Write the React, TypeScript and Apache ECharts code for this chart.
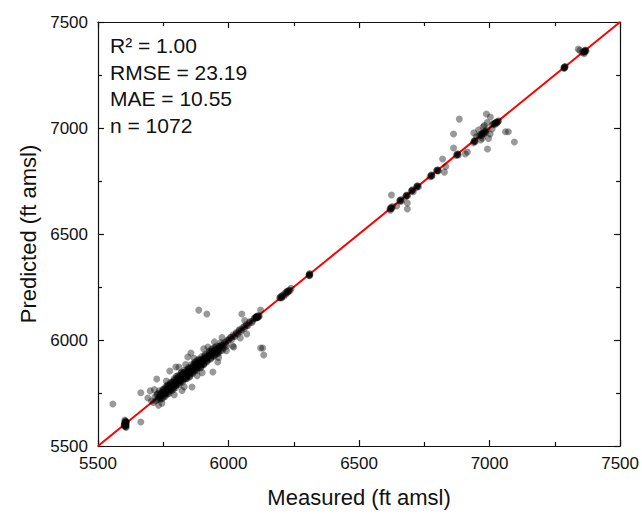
import React, { useEffect, useRef } from "react";
import * as echarts from "echarts";

const axisMin = 5500;
const axisMax = 7500;
const axisStep = 500;
const statLines = ["R\u00b2 = 1.00", "RMSE = 23.19", "MAE = 10.55", "n = 1072"];
const xAxisTitle = "Measured (ft amsl)";
const yAxisTitle = "Predicted (ft amsl)";
const oneToOne = [[5500, 5500], [7500, 7500]];

// [measured, predicted]
const lowCluster = [
  [5600, 5598], [5602, 5604], [5603, 5610], [5604, 5600], [5605, 5606], [5606, 5612],
  [5606, 5596], [5607, 5603], [5608, 5608], [5609, 5614], [5601, 5593], [5604, 5618],
  [5607, 5590], [5605, 5601], [5603, 5622], [5608, 5588], [5602, 5608], [5606, 5616],
  [5604, 5596], [5606, 5604], [5605, 5611], [5603, 5602], [5607, 5598], [5605, 5594],
];

const mainCluster = [
  [5691, 5726], [5705, 5712], [5712, 5705], [5718, 5731], [5722, 5713], [5725, 5742],
  [5728, 5719], [5731, 5727], [5733, 5749], [5736, 5732], [5738, 5721], [5740, 5746],
  [5742, 5735], [5745, 5754], [5747, 5741], [5749, 5727], [5751, 5762], [5753, 5746],
  [5755, 5737], [5757, 5769], [5759, 5756], [5761, 5749], [5763, 5774], [5765, 5759],
  [5767, 5745], [5769, 5782], [5771, 5767], [5773, 5757], [5775, 5791], [5777, 5775],
  [5779, 5764], [5781, 5797], [5783, 5783], [5785, 5771], [5787, 5801], [5789, 5787],
  [5791, 5779], [5793, 5809], [5795, 5794], [5797, 5785], [5799, 5816], [5801, 5803],
  [5803, 5789], [5805, 5821], [5807, 5807], [5809, 5796], [5811, 5827], [5813, 5815],
  [5815, 5802], [5817, 5833], [5819, 5821], [5821, 5808], [5823, 5839], [5825, 5825],
  [5827, 5814], [5829, 5845], [5831, 5833], [5833, 5819], [5835, 5851], [5837, 5839],
  [5839, 5825], [5841, 5857], [5843, 5843], [5845, 5831], [5847, 5862], [5849, 5851],
  [5851, 5837], [5853, 5867], [5855, 5855], [5857, 5843], [5859, 5873], [5861, 5863],
  [5863, 5849], [5865, 5879], [5867, 5867], [5869, 5855], [5871, 5885], [5873, 5875],
  [5875, 5861], [5877, 5890], [5879, 5879], [5881, 5867], [5883, 5896], [5885, 5887],
  [5887, 5873], [5889, 5901], [5891, 5891], [5893, 5879], [5895, 5907], [5897, 5899],
  [5899, 5885], [5901, 5913], [5904, 5904], [5907, 5893], [5910, 5921], [5913, 5913],
  [5916, 5901], [5919, 5929], [5922, 5921], [5925, 5909], [5928, 5937], [5931, 5927],
  [5934, 5917], [5937, 5945], [5940, 5937], [5943, 5925], [5946, 5953], [5949, 5943],
  [5952, 5933], [5955, 5961], [5958, 5951], [5961, 5943], [5964, 5969], [5967, 5961],
  [5970, 5951], [5973, 5977], [5976, 5967], [5980, 5961], [5984, 5987], [5988, 5979],
  [5992, 5971], [5996, 5999], [6002, 6004], [6008, 6013], [6012, 6002], [6018, 6025],
  [6024, 6017], [6030, 6035], [6036, 6029], [6042, 6049], [6048, 6040], [6055, 6059],
  [6062, 6055], [6068, 6073], [6075, 6069], [6082, 6087], [6090, 6083], [6098, 6103],
  [6104, 6106], [6106, 6110], [6108, 6104], [6110, 6112], [6112, 6108], [6118, 6113],
  [5760, 5781], [5790, 5768], [5820, 5848], [5850, 5826], [5880, 5904], [5905, 5884],
  [5935, 5956], [5958, 5938], [5800, 5829], [5840, 5818], [5870, 5894], [5895, 5872],
];

const mainCore = [
  [5735, 5760], [5744, 5722], [5752, 5770], [5758, 5734], [5766, 5788], [5772, 5748],
  [5778, 5800], [5784, 5762], [5792, 5818], [5798, 5776], [5806, 5832], [5812, 5790],
  [5818, 5844], [5824, 5802], [5832, 5858], [5838, 5816], [5846, 5870], [5852, 5828],
  [5858, 5884], [5864, 5842], [5872, 5896], [5878, 5856], [5886, 5910], [5892, 5868],
  [5898, 5922], [5906, 5884], [5912, 5934], [5918, 5896], [5926, 5948], [5932, 5910],
  [5940, 5960], [5946, 5924], [5954, 5972], [5962, 5938], [5970, 5988], [5978, 5952],
  [5740, 5738], [5750, 5752], [5760, 5758], [5770, 5772], [5780, 5779], [5790, 5792],
  [5800, 5798], [5810, 5812], [5820, 5818], [5830, 5833], [5840, 5838], [5850, 5852],
  [5860, 5858], [5870, 5872], [5880, 5878], [5890, 5893], [5900, 5898], [5910, 5912],
  [5920, 5918], [5930, 5932], [5940, 5939], [5950, 5953], [5960, 5958], [5970, 5972],
  [5980, 5978], [5990, 5992], [6000, 5998], [6010, 6012], [6020, 6018], [6030, 6031],
  [5745, 5748], [5755, 5753], [5765, 5768], [5775, 5773], [5785, 5788], [5795, 5793],
  [5805, 5808], [5815, 5813], [5825, 5828], [5835, 5833], [5845, 5848], [5855, 5853],
  [5865, 5868], [5875, 5873], [5885, 5888], [5895, 5893], [5905, 5908], [5915, 5913],
  [5925, 5928], [5935, 5933], [5945, 5948], [5955, 5953], [5965, 5968], [6040, 6043],
  [6050, 6048], [6060, 6063], [6070, 6068], [6080, 6082], [6092, 6090], [6100, 6102],
  [6106, 6107], [6109, 6108], [6107, 6111], [6111, 6106], [6114, 6115], [6116, 6110],
  [5728, 5745], [5748, 5766], [5768, 5786], [5788, 5806], [5808, 5826], [5828, 5846],
  [5848, 5866], [5868, 5886], [5888, 5906], [5908, 5926], [5928, 5946], [5948, 5966],
  [5738, 5726], [5758, 5746], [5778, 5766], [5798, 5786], [5818, 5806], [5838, 5826],
  [5858, 5846], [5878, 5866], [5898, 5886], [5918, 5906], [5938, 5926], [5958, 5946],
];

const mainOutliers = [
  [5557, 5698], [5664, 5613], [5664, 5751], [5886, 6141], [5917, 6123], [6051, 6123],
  [6123, 5962], [6131, 5962], [6135, 5929], [6070, 6028], [6020, 5967], [5725, 5816],
  [5775, 5854], [5798, 5873], [5856, 5939], [5860, 5778], [5940, 5849], [5844, 5920],
  [6016, 5972], [5959, 5896], [5921, 5967], [6123, 6141], [5700, 5760], [5745, 5702],
  [5810, 5872], [5830, 5779], [5880, 5832], [5905, 5958], [5962, 5918], [5992, 5950],
  [5762, 5806], [5792, 5742], [5868, 5914], [5975, 6012], [5946, 5991], [6045, 6010],
  [6062, 6092], [5732, 5692], [5822, 5762], [5716, 5766], [5899, 5846], [5836, 5884],
];

const midCluster = [
  [6196, 6198], [6200, 6205], [6204, 6200], [6208, 6212], [6212, 6206], [6216, 6221],
  [6220, 6216], [6224, 6230], [6228, 6225], [6232, 6236], [6236, 6232], [6240, 6244],
  [6198, 6201], [6202, 6199], [6206, 6208], [6222, 6224], [6226, 6229], [6230, 6231],
  [6308, 6305], [6310, 6310], [6312, 6307], [6311, 6314], [6309, 6308], [6310, 6303],
];

const upperCluster = [
  [6618, 6618], [6622, 6626], [6626, 6621], [6628, 6630], [6620, 6612], [6624, 6623],
  [6621, 6619], [6655, 6658], [6660, 6662], [6663, 6656], [6659, 6659], [6658, 6655],
  [6678, 6676], [6682, 6684], [6686, 6680], [6681, 6680], [6684, 6682],
  [6700, 6702], [6705, 6708], [6708, 6700], [6704, 6704], [6702, 6706],
  [6720, 6720], [6724, 6728], [6728, 6723], [6724, 6724], [6722, 6726],
  [6772, 6770], [6777, 6779], [6780, 6775], [6776, 6776], [6778, 6773],
  [6796, 6798], [6800, 6803], [6804, 6799], [6800, 6800], [6802, 6797],
  [6872, 6870], [6877, 6878], [6880, 6873], [6876, 6874], [6878, 6876],
  [6938, 6930], [6942, 6941], [6945, 6935], [6941, 6936], [6943, 6938],
  [6960, 6962], [6965, 6970], [6970, 6964], [6974, 6978], [6978, 6972], [6982, 6985],
  [6986, 6980], [6990, 6993], [6968, 6968], [6976, 6975], [6984, 6983], [6972, 6974],
  [7010, 7015], [7015, 7021], [7020, 7017], [7025, 7028], [7028, 7023], [7032, 7031],
  [7035, 7034], [7018, 7020], [7022, 7024], [7030, 7027], [7026, 7026],
];

const upperOutliers = [
  [6884, 7042], [6862, 6972], [6862, 6906], [6820, 6854], [6915, 6887], [6907, 6878],
  [6988, 7066], [7003, 7052], [6992, 6901], [7061, 6982], [7072, 6982], [7095, 6934],
  [6624, 6684], [6685, 6646], [6685, 6618], [6827, 6792], [6975, 7005], [6958, 6991],
  [6996, 6951], [6950, 6960], [7010, 6996], [6940, 6977], [6991, 7026], [6966, 6944],
  [6832, 6818], [6980, 7012], [7002, 6972], [6972, 6952], [6644, 6632],
];

const topCluster = [
  [7284, 7282], [7286, 7287], [7288, 7283], [7290, 7290], [7286, 7284], [7288, 7288],
  [7355, 7356], [7360, 7362], [7364, 7357], [7366, 7366], [7370, 7363], [7362, 7350],
  [7346, 7366], [7340, 7372], [7362, 7360], [7366, 7362], [7368, 7368],
];

export default function App() {
  const ref = useRef<HTMLDivElement>(null);
  useEffect(() => {
    if (!ref.current) return;
    const chart = echarts.init(ref.current, null, { renderer: "svg" });
    const font = "Liberation Sans, Arial, sans-serif";
    const points = [
      ...lowCluster, ...mainCluster, ...mainCore, ...mainOutliers, ...midCluster,
      ...upperCluster, ...upperOutliers, ...topCluster,
    ];
    const baseAxis = {
      type: "value",
      min: axisMin,
      max: axisMax,
      interval: axisStep,
      splitLine: { show: false },
      axisLine: { show: true, onZero: false, lineStyle: { color: "#111", width: 1.2 } },
      axisTick: { show: true, inside: true, length: 6, lineStyle: { color: "#111", width: 1.2 } },
      minorTick: { show: true, splitNumber: 2, length: 4, lineStyle: { color: "#111", width: 1.2 } },
    };
    const option: any = {
      animation: false,
      backgroundColor: "#ffffff",
      grid: { left: 98, right: 20, top: 22, bottom: 68, containLabel: false },
      xAxis: [
        {
          ...baseAxis,
          position: "bottom",
          name: xAxisTitle,
          nameLocation: "middle",
          nameGap: 40,
          nameTextStyle: { fontFamily: font, fontSize: 22, color: "#111" },
          axisLabel: {
            fontFamily: font, fontSize: 17, color: "#111", margin: 9,
            formatter: (v: number) => String(v),
          },
        },
        { ...baseAxis, position: "top", axisLabel: { show: false } },
      ],
      yAxis: [
        {
          ...baseAxis,
          position: "left",
          name: yAxisTitle,
          nameLocation: "middle",
          nameGap: 47,
          nameTextStyle: { fontFamily: font, fontSize: 22, color: "#111" },
          axisLabel: {
            fontFamily: font, fontSize: 17, color: "#111", margin: 10,
            formatter: (v: number) => String(v),
          },
        },
        { ...baseAxis, position: "right", axisLabel: { show: false } },
      ],
      series: [
        {
          type: "line",
          data: oneToOne,
          symbol: "none",
          lineStyle: { color: "#ff0000", width: 2 },
          z: 1,
        },
        {
          type: "scatter",
          data: points,
          symbol: "circle",
          symbolSize: 7,
          itemStyle: { color: "rgba(0,0,0,0.5)" },
          z: 2,
        },
      ],
      graphic: statLines.map((t, i) => ({
        type: "text",
        left: 110,
        top: 35 + i * 26.7,
        style: { text: t, fontFamily: font, fontSize: 21, fill: "#111" },
      })),
    };
    chart.setOption(option);
    return () => chart.dispose();
  }, []);
  return (
    <div
      ref={ref}
      style={{ position: "absolute", left: 0, top: 0, width: 642, height: 514 }}
    />
  );
}
